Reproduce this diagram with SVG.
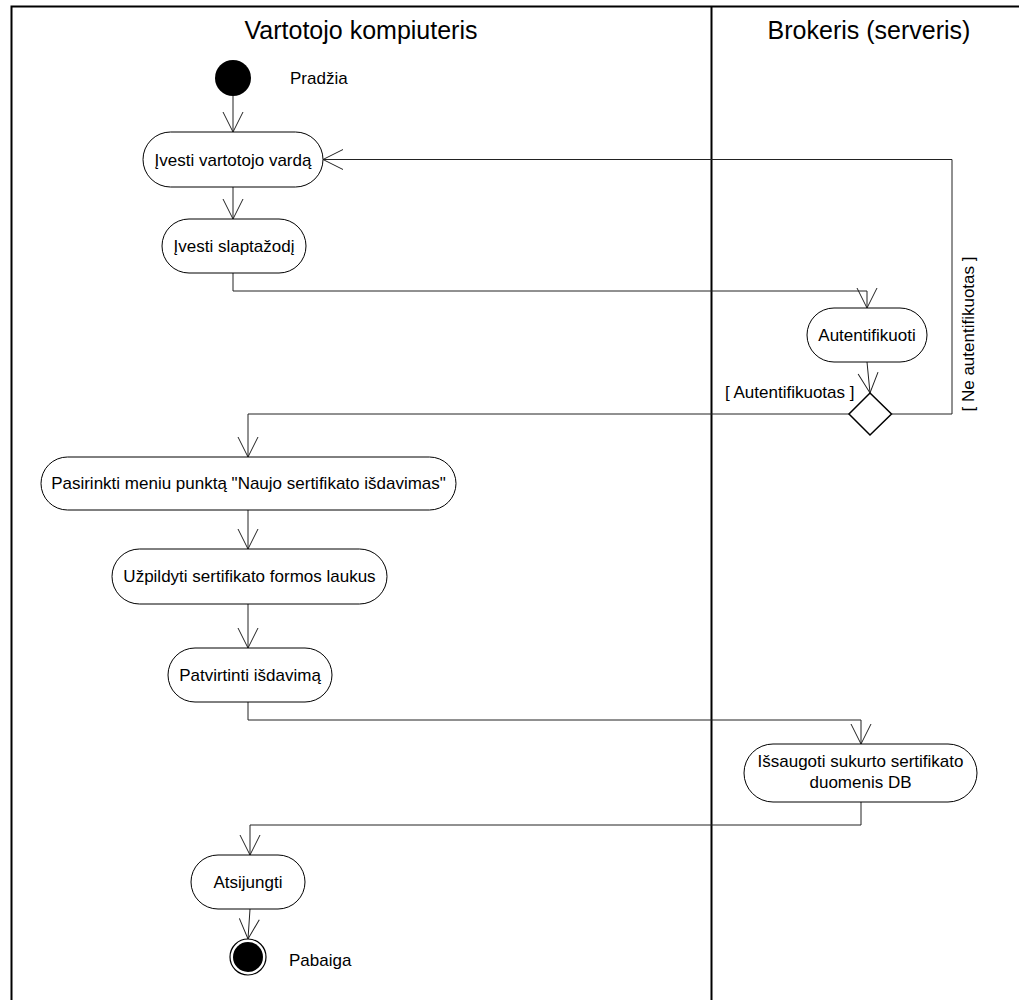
<svg xmlns="http://www.w3.org/2000/svg" width="1019" height="1000" viewBox="0 0 1019 1000">
  <style>
    text { font-family: "Liberation Sans", Arial, sans-serif; fill: #000; }
    .lane { fill: none; stroke: #000; stroke-width: 2; }
    .title { font-size: 25px; text-anchor: middle; }
    .act rect { fill: #fff; stroke: #000; stroke-width: 1; }
    .act text { font-size: 17px; text-anchor: middle; }
    .lbl { font-size: 17px; }
    .flow path { fill: none; stroke: #222; stroke-width: 1; }
  </style>
  <defs>
    <marker id="open" markerUnits="userSpaceOnUse" markerWidth="24" markerHeight="24" refX="20" refY="10" orient="auto" overflow="visible">
      <path d="M0,0 L20,10 L0,20" fill="none" stroke="#222" stroke-width="1"/>
    </marker>
  </defs>

  <!-- swimlanes -->
  <g id="swimlanes">
    <path class="lane" d="M11.5,1000 L11.5,6.5 L1019,6.5"/>
    <path class="lane" d="M711.5,6.5 L711.5,1000"/>
    <text class="title" x="361" y="39">Vartotojo kompiuteris</text>
    <text class="title" x="869" y="39">Brokeris (serveris)</text>
  </g>

  <!-- connectors -->
  <g id="connectors" class="flow">
    <path d="M233,96 L233,132" marker-end="url(#open)"/>
    <path d="M233,187 L233,219" marker-end="url(#open)"/>
    <path d="M233,273 L233,291 L867,291 L867,308" marker-end="url(#open)"/>
    <path d="M867,362 L870,393" marker-end="url(#open)"/>
    <path d="M849,414 L248,414 L248,457" marker-end="url(#open)"/>
    <path d="M892,414 L952,414 L952,159.5 L323,159.5" marker-end="url(#open)"/>
    <path d="M248,510 L248,549" marker-end="url(#open)"/>
    <path d="M248,604 L248,648" marker-end="url(#open)"/>
    <path d="M248,702 L248,720 L861,720 L861,744" marker-end="url(#open)"/>
    <path d="M861,802 L861,825 L250,825 L250,855" marker-end="url(#open)"/>
    <path d="M250,909 L248,939" marker-end="url(#open)"/>
    <text class="lbl" x="725" y="398">[ Autentifikuotas ]</text>
    <text class="lbl" x="974" y="334" text-anchor="middle" transform="rotate(-90 974 334)">[ Ne autentifikuotas ]</text>
  </g>

  <!-- start -->
  <g id="start">
    <circle cx="233" cy="78" r="18" fill="#000"/>
    <text class="lbl" x="290" y="84">Pradžia</text>
  </g>

  <g id="ivesti-varda" class="act">
    <rect x="143" y="132" width="180" height="55" rx="27.5"/>
    <text x="233" y="165.5">Įvesti vartotojo vardą</text>
  </g>

  <g id="ivesti-slaptazodi" class="act">
    <rect x="162" y="219" width="144" height="54" rx="27"/>
    <text x="234" y="252">Įvesti slaptažodį</text>
  </g>

  <g id="autentifikuoti" class="act">
    <rect x="807" y="308" width="120" height="54" rx="27"/>
    <text x="867" y="341">Autentifikuoti</text>
  </g>

  <g id="decision">
    <polygon points="870,393 891.5,414 870,435 849,414" fill="#fff" stroke="#000" stroke-width="1.5"/>
  </g>

  <g id="pasirinkti" class="act">
    <rect x="41" y="457" width="415" height="53" rx="26.5"/>
    <text x="248.5" y="489">Pasirinkti meniu punktą "Naujo sertifikato išdavimas"</text>
  </g>

  <g id="uzpildyti" class="act">
    <rect x="112" y="549" width="275" height="55" rx="27.5"/>
    <text x="249.5" y="582">Užpildyti sertifikato formos laukus</text>
  </g>

  <g id="patvirtinti" class="act">
    <rect x="168" y="648" width="164" height="54" rx="27"/>
    <text x="250" y="681">Patvirtinti išdavimą</text>
  </g>

  <g id="issaugoti" class="act">
    <rect x="744" y="744" width="233" height="58" rx="29"/>
    <text x="860.5" y="767">Išsaugoti sukurto sertifikato</text>
    <text x="860.5" y="788">duomenis DB</text>
  </g>

  <g id="atsijungti" class="act">
    <rect x="191" y="855" width="114" height="54" rx="27"/>
    <text x="248" y="888">Atsijungti</text>
  </g>

  <!-- end -->
  <g id="end">
    <circle cx="248" cy="957" r="18" fill="#fff" stroke="#000" stroke-width="1.2"/>
    <circle cx="248" cy="957" r="15" fill="#000"/>
    <text class="lbl" x="289" y="966">Pabaiga</text>
  </g>
</svg>
